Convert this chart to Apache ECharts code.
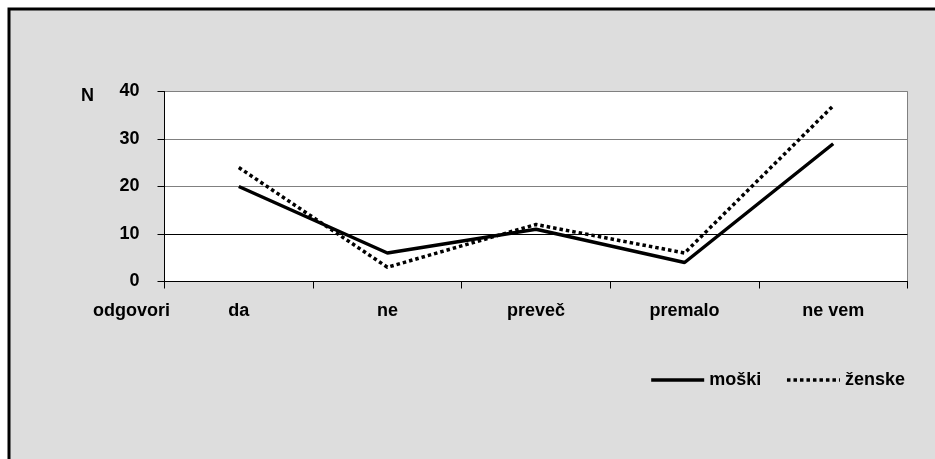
<!DOCTYPE html>
<html>
<head>
<meta charset="utf-8">
<script src="https://cdn.jsdelivr.net/npm/echarts@6/dist/echarts.min.js"></script>
<style>
html,body{margin:0;padding:0;background:#fff;}
#c{width:935px;height:459px;}
</style>
</head>
<body>
<div id="c"></div>
<script>
const categories = ['da', 'ne', 'preveč', 'premalo', 'ne vem'];
const moski = [20, 6, 11, 4, 29];
const zenske = [24, 3, 12, 6, 37];
const yTicks = [0, 10, 20, 30, 40];

const FONT = '"Liberation Sans", Arial, sans-serif';
const chart = echarts.init(document.getElementById('c'), null, {renderer: 'canvas'});
chart.setOption({
  animation: false,
  backgroundColor: '#ffffff',
  textStyle: {fontFamily: FONT, color: '#000', fontWeight: 'bold', fontSize: 18},
  graphic: [
    {type: 'rect', z: -100, silent: true,
     shape: {x: 9, y: 9, width: 940, height: 470},
     style: {fill: '#dddddd', stroke: '#000', lineWidth: 3}},
    {type: 'text', left: 81, top: 87, z: 10,
     style: {text: 'N', font: 'bold 18px ' + FONT, fill: '#000'}},
    {type: 'text', right: 935 - 170, top: 302, z: 10,
     style: {text: 'odgovori', font: 'bold 18px ' + FONT, fill: '#000', textAlign: 'right'}}
  ],
  grid: {
    left: 164.5, right: 27.5, top: 91.5, bottom: 177.5,
    show: true, backgroundColor: '#ffffff', borderColor: '#808080', borderWidth: 1
  },
  legend: {
    right: 25, top: 366,
    itemWidth: 53, itemHeight: 18, itemGap: 24,
    itemStyle: {opacity: 0},
    lineStyle: {width: 3.5},
    textStyle: {fontFamily: FONT, fontWeight: 'bold', fontSize: 18, color: '#000'},
    data: ['moški', 'ženske']
  },
  xAxis: {
    type: 'category',
    data: categories,
    boundaryGap: true,
    axisLine: {lineStyle: {color: '#000', width: 1}},
    axisTick: {show: true, interval: 0, length: 7, alignWithLabel: false, lineStyle: {color: '#000'}},
    axisLabel: {margin: 21, fontFamily: FONT, fontWeight: 'bold', fontSize: 18, color: '#000', interval: 0},
    splitLine: {show: false}
  },
  yAxis: {
    type: 'value',
    min: yTicks[0], max: yTicks[yTicks.length - 1], interval: 10,
    axisLine: {show: true, lineStyle: {color: '#000', width: 1}},
    axisTick: {show: true, length: 7, lineStyle: {color: '#000'}},
    axisLabel: {margin: 25, fontFamily: FONT, fontWeight: 'bold', fontSize: 18, color: '#000'},
    splitLine: {show: true, lineStyle: {color: ['#000', '#000', '#808080', '#808080', '#808080'], width: 1}}
  },
  series: [
    {name: 'moški', type: 'line', data: moski, symbol: 'none', z: 3,
     lineStyle: {color: '#000', width: 3.5, type: 'solid'}, itemStyle: {color: '#000'}},
    {name: 'ženske', type: 'line', data: zenske, symbol: 'none', z: 4,
     lineStyle: {color: '#000', width: 3.5, type: [3.5, 3]}, itemStyle: {color: '#000'}}
  ]
});
</script>
</body>
</html>
